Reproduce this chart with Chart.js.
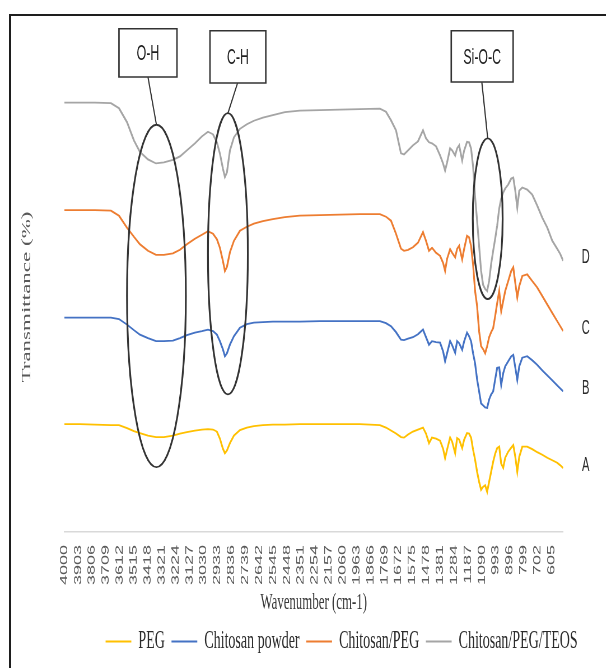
<!DOCTYPE html>
<html>
<head>
<meta charset="utf-8">
<title>FTIR spectra</title>
<script src="https://cdn.jsdelivr.net/npm/chart.js@4.4.1/dist/chart.umd.min.js"></script>
<style>
  html, body { margin: 0; padding: 0; background: #fff; width: 606px; height: 668px; overflow: hidden; }
  #stage { position: absolute; left: 0; top: 0; width: 1220px; height: 668px; transform-origin: 0 0; }
  #frame { position: absolute; left: 9px; top: 14px; width: 800px; height: 800px;
           border-left: 2px solid #1e1e1e; border-top: 2px solid #1e1e1e; pointer-events: none; }
</style>
</head>
<body>
<div id="stage"><canvas id="ftir"></canvas></div>
<div id="frame"></div>
<script>
// The figure is laid out on a wide stage and squeezed horizontally.
const SQUEEZE = 0.56;

// Wavenumber grid, cm-1 (high to low)
const wavenumber = [
  4000, 3891, 3786, 3675, 3619, 3563, 3515, 3473, 3417, 3361,
  3306, 3243, 3194, 3146, 3090, 3041, 2999, 2964, 2937, 2916,
  2895, 2881, 2867, 2846, 2818, 2776, 2728, 2679, 2616, 2547,
  2463, 2359, 2219, 2080, 1941, 1801, 1759, 1724, 1689, 1654,
  1633, 1605, 1571, 1536, 1501, 1480, 1459, 1438, 1410, 1382,
  1361, 1347, 1333, 1312, 1298, 1277, 1263, 1249, 1228, 1214,
  1194, 1180, 1166, 1152, 1138, 1124, 1110, 1096, 1082, 1068,
  1054, 1040, 1026, 1012, 998, 984, 970, 956, 942, 928,
  907, 886, 872, 858, 844, 830, 809, 775, 740, 705,
  670, 635, 600, 566, 545, 524
];

// Transmittance traces (stacked with offsets), %
const peg = [
  21.5, 21.5, 21.4, 21.3, 21.3, 20.7, 20.1, 19.7, 19.2, 18.9,
  18.9, 19.2, 19.6, 19.9, 20.2, 20.4, 20.5, 20.4, 20, 18.6,
  16.6, 15.7, 16.2, 17.7, 19.2, 20.3, 20.8, 21.1, 21.3, 21.4,
  21.4, 21.5, 21.5, 21.5, 21.5, 21.3, 20.8, 20.2, 19.6, 18.9,
  18.8, 19.4, 20, 20.4, 20.8, 19.6, 17.7, 18.8, 18.6, 18.2,
  16.6, 14.7, 16.4, 18.8, 18, 15.7, 18.7, 18.4, 16.7, 18.4,
  19.7, 19.6, 18.8, 16.4, 14.4, 12, 10, 8.4, 9, 9.3,
  8, 10, 12, 14, 15.6, 16.7, 17, 13.6, 12.8, 14.8,
  16, 16.8, 17.3, 15, 12, 15, 17, 17, 16.5, 15.9,
  15.4, 14.8, 14.3, 13.8, 13.3, 12.7
];
const chitosanPowder = [
  42.7, 42.7, 42.7, 42.7, 42.4, 41.3, 40.2, 39.3, 38.6, 38,
  38, 38.1, 38.6, 39.2, 39.7, 40, 40.3, 40, 39.3, 38,
  36.4, 35, 35.6, 37.3, 39, 40.7, 41.4, 41.7, 41.8, 41.9,
  41.9, 41.9, 42, 42, 42, 42, 41.6, 41, 39.8, 38.3,
  38.2, 38.5, 38.8, 39.4, 40.3, 38.8, 37.3, 38, 37.8, 37.7,
  36, 34, 35.6, 38, 37.2, 35.7, 38, 37.6, 36.3, 38,
  39.7, 39, 38, 35.6, 33.6, 30.4, 28, 25.6, 25.2, 24.8,
  24.7, 26.4, 27.4, 28, 30.4, 32.7, 32.8, 29.3, 31.6, 33,
  34, 35, 35.3, 32.8, 30.3, 33, 34.7, 35, 34.2, 33.3,
  32.2, 31.2, 30.2, 29.2, 28.6, 28
];
const chitosanPeg = [
  64.1, 64.1, 64.1, 64, 63, 60.6, 58.8, 57.3, 56, 55.2,
  55.2, 55.5, 56.2, 57.3, 58.4, 59.2, 59.9, 59.4, 58.3, 56.6,
  54, 52, 52.8, 55.7, 58, 60, 60.8, 61.4, 61.9, 62.3,
  62.7, 63, 63.1, 63.2, 63.3, 63.3, 62.8, 62, 59.4, 56.4,
  56, 56.2, 56.7, 57.6, 59.7, 58, 56, 56.6, 55.6, 55,
  53.6, 52, 54.4, 56.3, 55.6, 54.7, 56.4, 57, 54.3, 56.4,
  59, 58.7, 57, 53.3, 48, 45, 40, 37, 36.4, 35.6,
  37, 38.8, 39.8, 40.6, 43, 45.6, 48, 44, 46, 48,
  50, 52, 52.7, 49.6, 46.7, 49, 51, 51.3, 50, 48.7,
  47, 45.3, 43.6, 42, 41, 40
];
const chitosanPegTeos = [
  85.5, 85.5, 85.5, 85.4, 84.4, 81.6, 78, 75.7, 74.2, 73.4,
  73.6, 74.1, 74.8, 76, 77.4, 78.8, 79.7, 79.2, 77.6, 75.4,
  72.4, 70.7, 71.6, 76, 78.6, 80.3, 81.2, 81.9, 82.5, 83,
  83.6, 83.9, 84, 84.1, 84.2, 84.3, 83.7, 82, 80, 75.4,
  75.2, 76, 77, 77.8, 80, 78.4, 77.6, 77.4, 76.8, 75,
  73.4, 72, 73.6, 76.4, 76, 75, 76.4, 77, 74, 76,
  77.7, 77.6, 76.4, 72.8, 66.8, 62, 57, 52, 49.2, 48.4,
  48, 50, 53.4, 56, 58.4, 61, 64.4, 66.4, 67.6, 68.4,
  69.2, 70.4, 70.6, 68, 64.6, 68, 68.6, 68.2, 67.2, 65,
  62.6, 60.6, 58, 56.4, 55.4, 54
];

const seriesNames = ['PEG', 'Chitosan powder', 'Chitosan/PEG', 'Chitosan/PEG/TEOS'];
const seriesValues = [peg, chitosanPowder, chitosanPeg, chitosanPegTeos];
const seriesColors = ['#FFC000', '#4472C4', '#ED7D31', '#A5A5A5'];
const sampleLetters = ['A', 'B', 'C', 'D'];

// Category-style tick labels along the wavenumber axis, cm-1
const tickLabels = [
  4000, 3903, 3806, 3709, 3612, 3515, 3418, 3321, 3224, 3127, 3030, 2933,
  2836, 2739, 2642, 2545, 2448, 2351, 2254, 2157, 2060, 1963, 1866, 1769,
  1672, 1575, 1478, 1381, 1284, 1187, 1090, 993, 896, 799, 702, 605
];

// Highlighted absorption bands: ellipse around the band, labelled box above it
const bands = [
  { label: 'O-H',    centre: 3358, halfWidth: 205, level: 47,   halfHeight: 34.1, box: [3619, 3215, 100.2, 90.6], stem: 3417 },
  { label: 'C-H',    centre: 2860, halfWidth: 139, level: 55.4, halfHeight: 28,   box: [2985, 2596, 99.8, 89.4],  stem: 2793 },
  { label: 'Si-O-C', centre: 1050, halfWidth: 104, level: 62.4, halfHeight: 16,   box: [1304, 873, 99.8, 89.6],   stem: 1091 }
];
const letterWavenumber = 367;

document.getElementById('stage').style.transform = 'scaleX(' + SQUEEZE + ')';

// Stroke with a pen that stays round after the horizontal squeeze
function evenStroke(ctx, width) {
  ctx.save();
  ctx.scale(1 / SQUEEZE, 1);
  ctx.lineWidth = width;
  ctx.stroke();
  ctx.restore();
}

// Same pen for the traces; cached Path2D objects are pre-squeezed so the
// widened pen transform leaves their geometry unchanged.
const evenPen = {
  id: 'evenPen',
  beforeDatasetsDraw(chart) {
    const base = CanvasRenderingContext2D.prototype.stroke;
    const squeezeMatrix = new DOMMatrix([SQUEEZE, 0, 0, 1, 0, 0]);
    chart.ctx.stroke = function (...args) {
      this.save();
      this.scale(1 / SQUEEZE, 1);
      if (args[0] instanceof Path2D) {
        const p = new Path2D();
        p.addPath(args[0], squeezeMatrix);
        base.call(this, p);
      } else {
        base.apply(this, args);
      }
      this.restore();
    };
  },
  afterDatasetsDraw(chart) {
    delete chart.ctx.stroke;
  }
};

const bandMarkup = {
  id: 'bandMarkup',
  afterDraw(chart) {
    const { ctx, scales: { x, y } } = chart;
    ctx.save();
    ctx.strokeStyle = '#333333';
    bands.forEach(b => {
      const cx = x.getPixelForValue(b.centre);
      const cy = y.getPixelForValue(b.level);
      const rx = Math.abs(x.getPixelForValue(b.centre - b.halfWidth) - cx);
      const ry = Math.abs(y.getPixelForValue(b.level + b.halfHeight) - cy);
      ctx.beginPath();
      ctx.ellipse(cx, cy, rx, ry, 0, 0, Math.PI * 2);
      evenStroke(ctx, 1.8);

      const x1 = x.getPixelForValue(b.box[0]);
      const x2 = x.getPixelForValue(b.box[1]);
      const y1 = y.getPixelForValue(b.box[2]);
      const y2 = y.getPixelForValue(b.box[3]);

      ctx.beginPath();
      ctx.moveTo(x.getPixelForValue(b.stem), y2);
      ctx.lineTo(cx, cy - ry);
      evenStroke(ctx, 1.2);

      ctx.fillStyle = '#ffffff';
      ctx.fillRect(x1, y1, x2 - x1, y2 - y1);
      ctx.beginPath();
      ctx.rect(x1, y1, x2 - x1, y2 - y1);
      evenStroke(ctx, 1.5);

      ctx.fillStyle = '#1f1f1f';
      ctx.font = '22px "Liberation Sans", Arial, sans-serif';
      ctx.textAlign = 'center';
      ctx.textBaseline = 'middle';
      ctx.fillText(b.label, (x1 + x2) / 2, (y1 + y2) / 2 + 1);
    });

    // Sample letters beside the right-hand ends of the traces
    ctx.fillStyle = '#2b2b2b';
    ctx.font = '20px "Liberation Sans", Arial, sans-serif';
    ctx.textAlign = 'center';
    ctx.textBaseline = 'middle';
    seriesValues.forEach((vals, i) => {
      const last = vals[vals.length - 1];
      ctx.fillText(sampleLetters[i], x.getPixelForValue(letterWavenumber), y.getPixelForValue(last + 0.6));
    });
    ctx.restore();
  }
};

Chart.defaults.font.family = '"Liberation Sans", Arial, sans-serif';

new Chart(document.getElementById('ftir'), {
  type: 'line',
  data: {
    datasets: seriesNames.map((name, i) => ({
      label: name,
      data: wavenumber.map((w, k) => ({ x: w, y: seriesValues[i][k] })),
      borderColor: seriesColors[i],
      backgroundColor: seriesColors[i],
      borderWidth: 1.8,
      pointRadius: 0,
      fill: false,
      tension: 0
    }))
  },
  options: {
    responsive: true,
    maintainAspectRatio: false,
    animation: false,
    events: [],
    layout: { padding: { top: 62, bottom: 4, left: 0, right: 0 } },
    scales: {
      x: {
        type: 'linear',
        reverse: true,
        min: 524,
        max: 4000,
        afterBuildTicks: s => { s.ticks = tickLabels.map(v => ({ value: v })); },
        afterFit: s => { s.height = 85; },
        ticks: {
          autoSkip: false,
          minRotation: 90,
          maxRotation: 90,
          padding: 13,
          color: '#595959',
          font: { family: '"Liberation Sans", Arial, sans-serif', size: 18 },
          callback: v => String(v)
        },
        grid: { display: false, drawTicks: false },
        border: { display: true, color: '#d9d9d9', width: 1.5 },
        title: {
          display: true,
          text: 'Wavenumber (cm-1)',
          color: '#3a3a3a',
          font: { family: '"Liberation Serif", "Times New Roman", serif', size: 23 },
          padding: { top: 0, bottom: 0 }
        }
      },
      y: {
        min: 0,
        max: 93.6,
        afterFit: s => { s.width = 114.8; },
        ticks: { display: false },
        grid: { display: false, drawTicks: false },
        border: { display: false },
        title: {
          display: true,
          text: 'Transmittance (%)',
          color: '#595959',
          font: { family: '"Liberation Serif", "Times New Roman", serif', size: 23 },
          padding: { top: 34.4, bottom: 0 }
        }
      },
      yRight: {
        position: 'right',
        display: true,
        afterFit: s => { s.width = 214.3; },
        ticks: { display: false },
        grid: { display: false, drawTicks: false },
        border: { display: false }
      }
    },
    plugins: {
      tooltip: { enabled: false },
      legend: {
        position: 'bottom',
        labels: {
          usePointStyle: true,
          pointStyle: 'line',
          pointStyleWidth: 46,
          padding: 12,
          color: '#2b2b2b',
          font: { family: '"Liberation Serif", "Times New Roman", serif', size: 25 }
        }
      }
    }
  },
  plugins: [evenPen, bandMarkup]
});
</script>
</body>
</html>
